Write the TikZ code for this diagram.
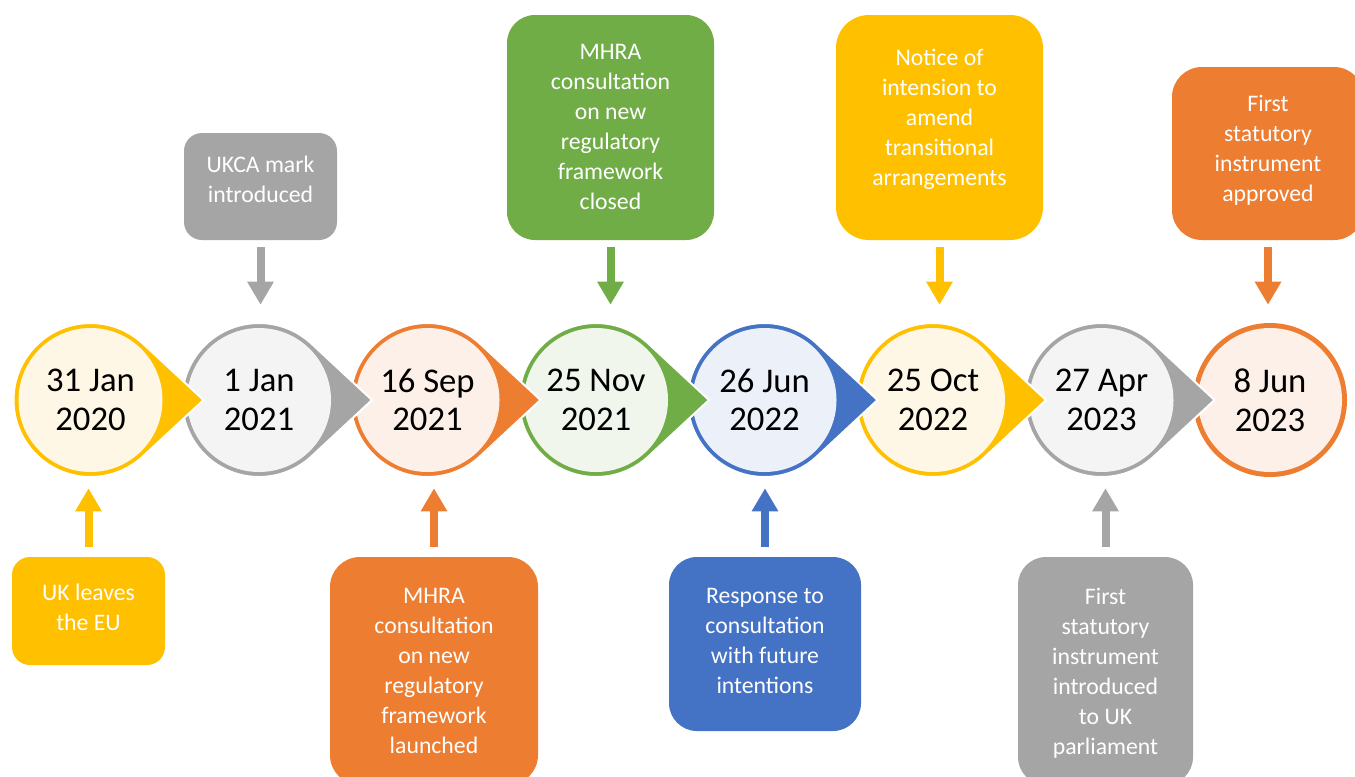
\documentclass[tikz,border=0pt]{standalone}
\usepackage{fontspec}
\setmainfont{Carlito}
\usetikzlibrary{arrows.meta,calc}
\definecolor{cY}{HTML}{FFC000}
\definecolor{cYl}{HTML}{FFF7E6}
\definecolor{cGr}{HTML}{A5A5A5}
\definecolor{cGrl}{HTML}{F4F4F4}
\definecolor{cO}{HTML}{ED7D31}
\definecolor{cOl}{HTML}{FDF0E9}
\definecolor{cG}{HTML}{70AD47}
\definecolor{cGl}{HTML}{F0F6EC}
\definecolor{cB}{HTML}{4472C4}
\definecolor{cBl}{HTML}{EBF0F9}
\newcommand\tdrop[2]{%
  \fill[#2, draw=white, line width=1.5pt] ($(#1,400)+(84.75pt,0)$) -- ($(#1,400)+(47:57.75pt)$)
    arc[start angle=47, end angle=313, radius=57.75pt] -- cycle;}
\begin{document}
\begin{tikzpicture}[x=0.75pt,y=-0.75pt,
  box/.style={rectangle, inner sep=0pt, draw=none},
  btext/.style={align=center, text=white, inner sep=0pt, anchor=north, font=\fontsize{17.8pt}{22.5pt}\selectfont},
  date/.style={circle, inner sep=0pt, minimum size=108pt, align=center, text=black, font=\fontsize{26pt}{29pt}\selectfont},
  conn/.style={line width=6pt, -{Triangle[width=18.75pt,length=17.25pt]}},
  up/.style={conn, shorten <=7.5pt, shorten >=12pt},
  down/.style={conn, shorten <=5.25pt, shorten >=17.25pt}]
\clip (0,0) rectangle (1355,776);
\fill[white] (0,0) rectangle (1355,776);

% circles, drawn right to left so each pointer lies over the next circle
\fill[cO] (1270,400) circle[radius=57.75pt];
\node[date, fill=cOl] (c8) at (1270,400) {8 Jun\\2023};
\tdrop{1101.5}{cGr}
\node[date, fill=cGrl] (c7) at (1101.5,400) {27 Apr\\2023};
\tdrop{933}{cY}
\node[date, fill=cYl] (c6) at (933,400) {25 Oct\\2022};
\tdrop{764.5}{cB}
\node[date, fill=cBl] (c5) at (764.5,400) {26 Jun\\2022};
\tdrop{596}{cG}
\node[date, fill=cGl] (c4) at (596,400) {25 Nov\\2021};
\tdrop{427.5}{cO}
\node[date, fill=cOl] (c3) at (427.5,400) {16 Sep\\2021};
\tdrop{259}{cGr}
\node[date, fill=cGrl] (c2) at (259,400) {1 Jan\\2021};
\tdrop{90.5}{cY}
\node[date, fill=cYl] (c1) at (90.5,400) {31 Jan\\2020};

% boxes
\node[box, fill=cY, rounded corners=13.5pt, minimum width=114.75pt, minimum height=81pt] (b1) at (88.5,611) {};
\node[btext] (t1) at (88.5,583.5) {UK leaves\\the EU};
\node[box, fill=cGr, rounded corners=13.5pt, minimum width=114.75pt, minimum height=80.25pt] (b2) at (260.5,186.5) {};
\node[btext] (t2) at (260.5,155.5) {UKCA mark\\introduced};
\node[box, fill=cO, rounded corners=22.5pt, minimum width=156pt, minimum height=171pt] (b3) at (434,671) {};
\node[btext] (t3) at (434,587.5) {MHRA\\consultation\\on new\\regulatory\\framework\\launched};
\node[box, fill=cG, rounded corners=21pt, minimum width=155.25pt, minimum height=168.75pt] (b4) at (610.5,127.5) {};
\node[btext] (t4) at (610.5,43.5) {MHRA\\consultation\\on new\\regulatory\\framework\\closed};
\node[box, fill=cB, rounded corners=21pt, minimum width=144pt, minimum height=130.5pt] (b5) at (765,644) {};
\node[btext] (t5) at (765,587.5) {Response to\\consultation\\with future\\intentions};
\node[box, fill=cY, rounded corners=24.75pt, minimum width=155.25pt, minimum height=168.75pt] (b6) at (939.5,127.5) {};
\node[btext] (t6) at (939.5,48.5) {Notice of\\intension to\\amend\\transitional\\arrangements};
\node[box, fill=cGr, rounded corners=21pt, minimum width=131.25pt, minimum height=171pt] (b7) at (1105.5,671) {};
\node[btext] (t7) at (1105.5,587.5) {First\\statutory\\instrument\\introduced\\to UK\\parliament};
\node[box, fill=cO, rounded corners=22.5pt, minimum width=144pt, minimum height=129.75pt] (b8) at (1268,153.5) {};
\node[btext] (t8) at (1268,94.5) {First\\statutory\\instrument\\approved};

% connectors
\draw[up, draw=cY] (b1.north) -- (b1.north |- c1.south);
\draw[down, draw=cGr] (b2.south) -- (b2.south |- c2.north);
\draw[up, draw=cO] (b3.north) -- (b3.north |- c3.south);
\draw[down, draw=cG] (b4.south) -- (b4.south |- c4.north);
\draw[up, draw=cB] (b5.north) -- (b5.north |- c5.south);
\draw[down, draw=cY] (b6.south) -- (b6.south |- c6.north);
\draw[up, draw=cGr] (b7.north) -- (b7.north |- c7.south);
\draw[down, draw=cO] (b8.south) -- (b8.south |- c8.north);
\end{tikzpicture}
\end{document}
